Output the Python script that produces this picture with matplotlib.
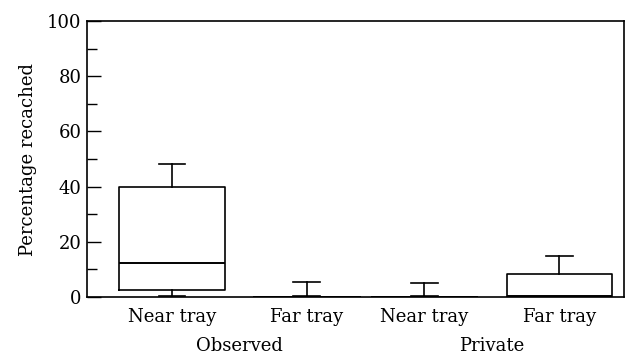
import matplotlib.pyplot as plt
from matplotlib.ticker import MultipleLocator

plt.rcParams['font.family'] = ['DejaVu Serif']

# box summaries per condition (percentage recached)
tray_labels = ['Near tray', 'Far tray', 'Near tray', 'Far tray']
group_labels = ['Observed', 'Private']
medians = [12.3, 0.0, 0.0, 0.5]
q1s = [2.5, 0.0, 0.0, 0.0]
q3s = [39.7, 0.0, 0.0, 8.3]
whisk_lo = [0.5, 0.5, 0.5, 0.0]
whisk_hi = [48.3, 5.5, 5.0, 14.9]
positions = [1, 2, 2.87, 3.87]

stats = [dict(med=m, q1=a, q3=b, whislo=lo, whishi=hi, label=lab)
         for m, a, b, lo, hi, lab in zip(medians, q1s, q3s, whisk_lo, whisk_hi, tray_labels)]

fig = plt.figure(figsize=(6.26, 3.56), dpi=100)
ax = fig.add_axes([87 / 626, 1 - 297 / 356, 537 / 626, 276 / 356])

lp = dict(color='black', linewidth=1.2)
ax.bxp(stats, positions=positions, widths=0.78, capwidths=0.2, showfliers=False,
       boxprops=lp, whiskerprops=lp, capprops=lp,
       medianprops=dict(color='black', linewidth=1.4))

ax.set_xlim(0.37, 4.35)
ax.set_ylim(0, 100)
ax.yaxis.set_major_locator(MultipleLocator(20))
ax.yaxis.set_minor_locator(MultipleLocator(10))
ax.tick_params(axis='y', which='major', direction='in', length=10, width=1, labelsize=13, pad=4)
ax.tick_params(axis='y', which='minor', direction='in', length=7, width=1)
ax.tick_params(axis='x', length=0, labelsize=13, pad=8)
for s in ax.spines.values():
    s.set_linewidth(1.2)

ax.set_ylabel('Percentage recached', fontsize=13, labelpad=7)

# group names under the pairs of trays
for x, g in zip([(positions[0] + positions[1]) / 2, (positions[2] + positions[3]) / 2], group_labels):
    ax.text(x, -0.145, g, transform=ax.get_xaxis_transform(), ha='center', va='top', fontsize=13)

fig.savefig('out.png', dpi=100)
